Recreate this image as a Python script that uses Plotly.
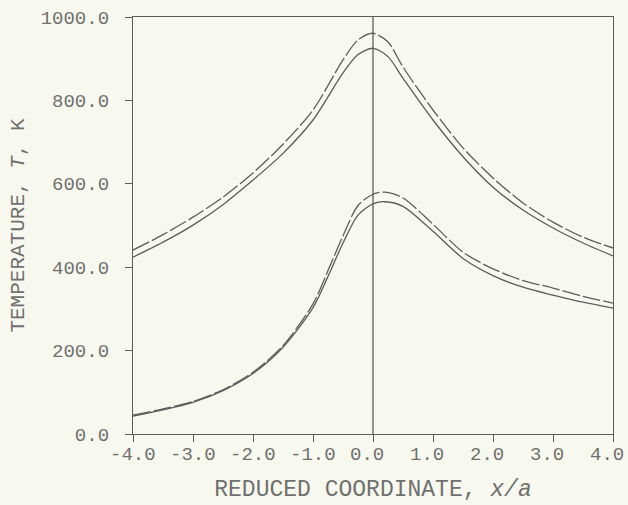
import plotly.graph_objects as go

# ---- data ----
x_upper = [-4.0, -3.5, -3.0, -2.5, -2.0, -1.5, -1.0, -0.5, -0.25, 0.0, 0.25, 0.5, 1.0, 1.5, 2.0, 2.5, 3.0, 3.5, 4.0]
t_upper_dash = [441, 478, 520, 568, 626, 695, 777, 897, 945, 961, 940, 880, 777, 686, 614, 554, 508, 472, 446]
t_upper_solid = [424, 460, 501, 550, 609, 673, 753, 866, 910, 925, 905, 853, 753, 665, 592, 537, 494, 458, 427]

x_lower = [-4.0, -3.5, -3.0, -2.5, -2.0, -1.5, -1.0, -0.75, -0.5, -0.25, 0.0, 0.2, 0.5, 1.0, 1.5, 2.0, 2.5, 3.0, 3.5, 4.0]
t_lower_dash = [45, 60, 78, 106, 148, 212, 312, 392, 475, 548, 575, 580, 566, 503, 436, 396, 368, 350, 330, 314]
t_lower_solid = [43, 58, 76, 104, 145, 208, 303, 378, 458, 525, 552, 557, 546, 486, 421, 380, 352, 333, 316, 302]

x_ticks = [-4, -3, -2, -1, 0, 1, 2, 3, 4]
x_tick_text = ["-4.0", "-3.0", "-2.0", "-1.0", "0.0", "1.0", "2.0", "3.0", "4.0"]
y_ticks = [0, 200, 400, 600, 800, 1000]
y_tick_text = ["0.0", "200.0", "400.0", "600.0", "800.0", "1000.0"]
ref_line_x = 0.0

LINE = "#5c5c5c"
TEXT = "#707070"
BG = "#f8f9ee"
FONT = "Liberation Mono, Courier New, monospace"

fig = go.Figure()
for xs, ys, dash in [
    (x_upper, t_upper_dash, "18px,3px"),
    (x_upper, t_upper_solid, "solid"),
    (x_lower, t_lower_dash, "18px,3px"),
    (x_lower, t_lower_solid, "solid"),
]:
    fig.add_trace(go.Scatter(
        x=xs, y=ys, mode="lines",
        line=dict(color=LINE, width=1.3, dash=dash, shape="spline", smoothing=0.8),
        showlegend=False, hoverinfo="skip",
    ))

fig.add_shape(type="line", xref="x", yref="paper", x0=ref_line_x, x1=ref_line_x, y0=0, y1=1,
              line=dict(color=LINE, width=1.3))

# x tick labels: typewriter-style, unsigned labels sit half a character left of the tick
for xv, txt in zip(x_ticks, x_tick_text):
    fig.add_annotation(
        x=xv, y=0, xref="x", yref="paper", text=txt, showarrow=False,
        xanchor="center", yanchor="middle", yshift=-21,
        xshift=0 if txt.startswith("-") else -6,
        font=dict(size=19, family=FONT, color=TEXT),
    )

fig.update_layout(
    width=628, height=505,
    margin=dict(l=133, r=15, t=17, b=71),
    paper_bgcolor=BG, plot_bgcolor=BG,
    font=dict(family=FONT, color=TEXT, size=19),
    xaxis=dict(
        range=[-4, 4], tickvals=x_ticks, showticklabels=False,
        showgrid=False, zeroline=False, automargin=False,
        showline=True, mirror=True, linecolor=LINE, linewidth=1.3,
        ticks="outside", ticklen=7, tickcolor=LINE, tickwidth=1.3,
        title=dict(text="REDUCED COORDINATE, <i>x/a</i>", font=dict(size=23, family=FONT, color=TEXT), standoff=38),
    ),
    yaxis=dict(
        range=[0, 1000], tickvals=y_ticks, ticktext=y_tick_text,
        showgrid=False, zeroline=False, automargin=False,
        showline=True, mirror=True, linecolor=LINE, linewidth=1.3,
        ticks="outside", ticklen=7, tickcolor=LINE, tickwidth=1.3,
        ticklabelstandoff=12,
        tickfont=dict(size=19, family=FONT, color=TEXT),
        title=dict(text="TEMPERATURE, <i>T</i>, K", font=dict(size=21, family=FONT, color=TEXT), standoff=10),
    ),
)

fig.write_html(
    "out.html",
    config={"displayModeBar": False},
    post_script="document.body.style.margin='0';document.body.style.overflow='hidden';document.body.style.background='" + BG + "';",
)
